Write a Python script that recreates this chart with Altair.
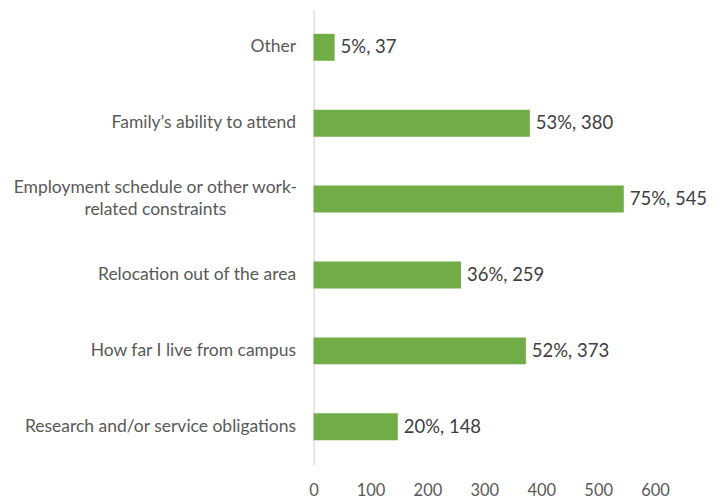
import altair as alt
import pandas as pd

categories = [
    "Other",
    "Family’s ability to attend",
    "Employment schedule or other work-related constraints",
    "Relocation out of the area",
    "How far I live from campus",
    "Research and/or service obligations",
]
counts = [37, 380, 545, 259, 373, 148]
percents = [5, 53, 75, 36, 52, 20]
x_ticks = [0, 100, 200, 300, 400, 500, 600]

df = pd.DataFrame({"cat": categories, "count": counts, "pct": percents})
df["label"] = df["pct"].astype(str) + "%, " + df["count"].astype(str)

LONG = "Employment schedule or other work-related constraints"
FONT = "Lato"
TEST = f"datum.value == '{LONG}'"

y_enc = alt.Y(
    "cat:N",
    sort=categories,
    title=None,
    scale=alt.Scale(paddingInner=0.645, paddingOuter=0.3225),
    axis=alt.Axis(
        ticks=False,
        domainColor="#d9d9d9",
        domainWidth=1.3,
        labelFont=FONT,
        labelFontSize=17.5,
        labelColor="#595959",
        labelLimit=400,
        labelExpr=f"{TEST} ? ['Employment schedule or other work-', 'related constraints'] : datum.value",
        labelAlign={"condition": {"test": TEST, "value": "center"}, "value": "right"},
        labelPadding={"condition": {"test": TEST, "value": 159}, "value": 18},
        labelOffset={"condition": {"test": TEST, "value": -11}, "value": 0},
        labelLineHeight=22,
    ),
)

x_enc = alt.X(
    "count:Q",
    title=None,
    scale=alt.Scale(domain=[0, 600], nice=False),
    axis=alt.Axis(
        values=x_ticks,
        grid=False,
        ticks=False,
        domain=False,
        labelFont=FONT,
        labelFontSize=16.5,
        labelColor="#595959",
        labelPadding=18,
        labelFlush=False,
    ),
)

bars = alt.Chart(df).mark_bar(color="#70AD47").encode(x=x_enc, y=y_enc)
text = alt.Chart(df).mark_text(
    align="left", dx=6, font=FONT, fontSize=18.5, color="#404040", baseline="middle"
).encode(x="count:Q", y=alt.Y("cat:N", sort=categories), text="label:N")

chart = (
    alt.layer(bars, text)
    .properties(
        width=342,
        height=456,
        autosize=alt.AutoSizeParams(type="none"),
        padding={"left": 306, "top": 1, "right": 60, "bottom": 37},
        background="white",
    )
    .configure_view(stroke=None)
)

chart.save("out.html", embed_options={"renderer": "svg", "actions": False})
